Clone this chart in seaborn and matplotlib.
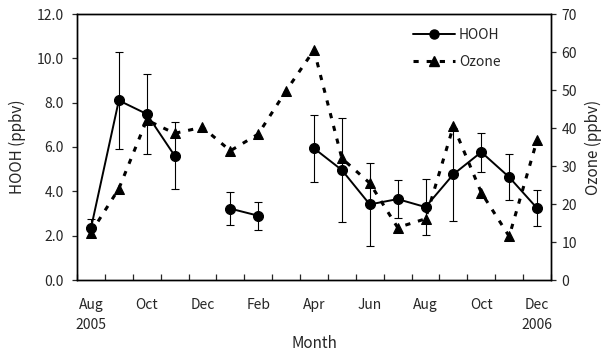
import numpy as np
import pandas as pd
import matplotlib
matplotlib.use("Agg")
import matplotlib.pyplot as plt
from matplotlib.lines import Line2D
from matplotlib.ticker import MultipleLocator, FormatStrFormatter
import seaborn as sns

# ---- data ----
months = ["Aug", "Sep", "Oct", "Nov", "Dec", "Jan", "Feb", "Mar", "Apr",
          "May", "Jun", "Jul", "Aug", "Sep", "Oct", "Nov", "Dec"]
tick_labels = ["Aug\n2005", "Oct", "Dec", "Feb", "Apr", "Jun", "Aug", "Oct", "Dec\n2006"]
hooh = [2.33, 8.1, 7.49, 5.61, np.nan, 3.22, 2.9, np.nan, 5.94,
        4.96, 3.41, 3.65, 3.29, 4.77, 5.77, 4.64, 3.24]
hooh_err = [0.4, 2.2, 1.8, 1.5, np.nan, 0.75, 0.63, np.nan, 1.52,
            2.35, 1.88, 0.85, 1.25, 2.1, 0.88, 1.05, 0.82]
ozone = [12.5, 24.0, 42.1, 38.6, 40.2, 34.0, 38.4, 49.8, 60.5,
         32.0, 25.5, 13.8, 16.1, 40.5, 23.0, 11.5, 36.8]

idx = np.arange(len(months))
seg = np.cumsum(np.isnan(hooh))
df = pd.DataFrame({"x": idx, "hooh": hooh, "err": hooh_err, "ozone": ozone, "seg": seg})
dfh = df.dropna(subset=["hooh"])

sns.set_theme(style="ticks")
plt.rcParams["font.family"] = ["Noto Sans CJK JP", "DejaVu Sans"]

fig = plt.figure(figsize=(6.05, 3.53), dpi=100)
ax = fig.add_axes([77 / 605, 73 / 353, 474 / 605, 266 / 353])
ax2 = ax.twinx()

dash = (0, (1.7, 2.6))

# HOOH
ax.errorbar(dfh["x"], dfh["hooh"], yerr=dfh["err"], fmt="none", ecolor="black",
            elinewidth=0.8, capsize=2.8, capthick=0.8, zorder=2)
sns.lineplot(data=dfh, x="x", y="hooh", units="seg", estimator=None, ax=ax,
             color="black", linewidth=1.4, marker="o", markersize=7.2,
             markeredgecolor="black", markerfacecolor="black", legend=False, zorder=3)

# Ozone
sns.lineplot(data=df, x="x", y="ozone", ax=ax2, color="black", linewidth=2.2,
             linestyle=dash, marker="^", markersize=7.2,
             markeredgecolor="black", markerfacecolor="black", legend=False)

ax.set_xlim(-0.5, len(months) - 0.5)
ax.set_ylim(0, 12)
ax2.set_ylim(0, 70)
ax.yaxis.set_major_locator(MultipleLocator(2))
ax.yaxis.set_major_formatter(FormatStrFormatter("%.1f"))
ax2.yaxis.set_major_locator(MultipleLocator(10))

ax.set_xticks(idx[::2])
ax.set_xticklabels(tick_labels)
ax.set_xticks(np.arange(-0.5, len(months), 1.0), minor=True)
ax.tick_params(axis="x", which="major", length=0, pad=13, labelsize=10)
ax.tick_params(axis="x", which="minor", direction="in", length=4, width=0.9)
for t in ax.get_xticklabels():
    t.set_linespacing(1.55)
ax.tick_params(axis="y", direction="out", length=3.5, width=0.9, pad=6, labelsize=10)
ax2.tick_params(axis="y", direction="out", length=3.5, width=0.9, pad=4, labelsize=10)

ax.set_xlabel("Month", fontsize=11, labelpad=2)
ax.set_ylabel("HOOH (ppbv)", fontsize=11, labelpad=8)
ax2.set_ylabel("Ozone (ppbv)", fontsize=11, labelpad=6)

for a in (ax, ax2):
    for s in a.spines.values():
        s.set_color("black")
        s.set_linewidth(1.0)

handles = [
    Line2D([], [], color="black", linewidth=1.4, marker="o", markersize=6.5),
    Line2D([], [], color="black", linewidth=2.2, linestyle=dash,
           marker="^", markersize=6.5),
]
ax2.legend(handles, ["HOOH", "Ozone"], loc="upper left",
           bbox_to_anchor=((413 - 77) / 474, (280 - 28) / 266),
           frameon=False, fontsize=10, handlelength=3.0, handletextpad=0.3,
           labelspacing=0.95, borderpad=0, borderaxespad=0)

fig.savefig("out.png", dpi=100)
